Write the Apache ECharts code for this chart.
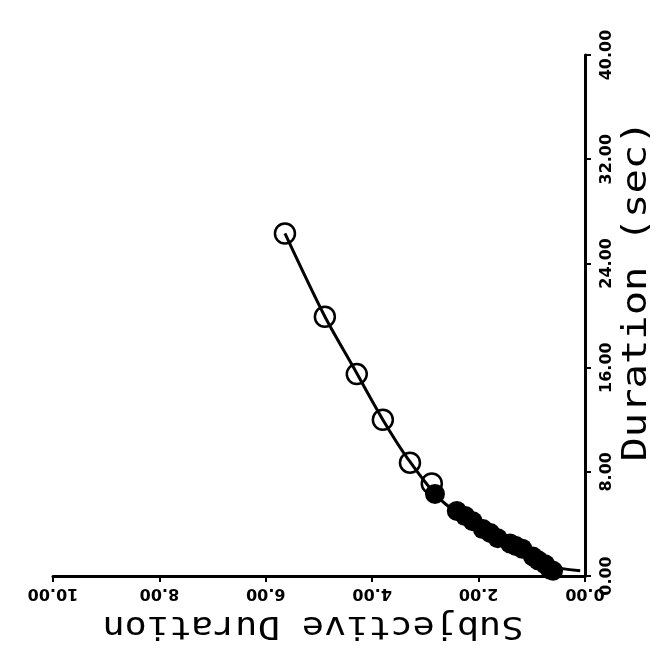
<!DOCTYPE html>
<html>
<head>
<meta charset="utf-8">
<script src="https://cdn.jsdelivr.net/npm/echarts@6/dist/echarts.min.js"></script>
<style>
html,body{margin:0;padding:0;background:#fff;}
#chart{width:665px;height:650px;}
</style>
</head>
<body>
<div id="chart"></div>
<script>
// Subjective duration (x, increasing to the left) vs duration in sec (y, on the right)
var openS = [5.64, 4.89, 4.29, 3.80, 3.29, 2.88];
var openD = [26.3, 19.9, 15.5, 12.0, 8.7, 7.1];

var filledS = [0.60, 0.66, 0.75, 0.88, 0.98, 1.18, 1.30, 1.41, 1.64, 1.78, 1.92, 2.11, 2.25, 2.41, 2.82];
var filledD = [0.4, 0.5, 0.9, 1.2, 1.5, 2.1, 2.3, 2.5, 2.9, 3.3, 3.6, 4.2, 4.6, 5.0, 6.3];

var fitS = [0.09, 0.70, 1.00, 1.42, 2.10, 2.75, 3.33, 3.80, 4.35, 4.90, 5.64];
var fitD = [0.4, 0.8, 1.5, 2.5, 4.0, 6.0, 9.0, 12.0, 16.0, 20.0, 26.3];

var subjTicks = ['0.00', '2.00', '4.00', '6.00', '8.00', '10.00'];
var durTicks = ['0.00', '8.00', '16.00', '24.00', '32.00', '40.00'];

function zip(a, b) { return a.map(function (v, i) { return [v, b[i]]; }); }

var chart = echarts.init(document.getElementById('chart'), null, {renderer: 'canvas'});
var labelFont = {color: '#000', fontWeight: 'bold', fontSize: 16, fontFamily: 'DejaVu Sans'};

chart.setOption({
  backgroundColor: '#fff',
  animation: false,
  grid: {left: 53, right: 80, top: 55, bottom: 74, containLabel: false, outerBoundsMode: 'none'},
  xAxis: {
    type: 'value', inverse: true, position: 'bottom',
    min: 0, max: 10, interval: 2,
    axisLine: {show: true, onZero: false, lineStyle: {color: '#000', width: 3}},
    axisTick: {show: true, inside: false, length: 6, lineStyle: {color: '#000', width: 2}},
    splitLine: {show: false},
    axisLabel: Object.assign({
      rotate: 180, margin: 9,
      formatter: function (v) { return subjTicks[Math.round(v / 2)]; }
    }, labelFont)
  },
  yAxis: {
    type: 'value', position: 'right',
    min: 0, max: 40, interval: 8,
    axisLine: {show: true, onZero: false, lineStyle: {color: '#000', width: 3}},
    axisTick: {show: true, inside: false, length: 6, lineStyle: {color: '#000', width: 2}},
    splitLine: {show: false},
    axisLabel: Object.assign({
      rotate: 90, margin: 14,
      formatter: function (v) { return durTicks[Math.round(v / 8)]; }
    }, labelFont)
  },
  graphic: [
    {type: 'text', x: 637, y: 291, rotation: Math.PI / 2, scaleX: 1.19,
     style: {text: 'Duration (sec)', font: '34px "DejaVu Sans Mono"', fill: '#000',
             textAlign: 'center', textVerticalAlign: 'middle', verticalAlign: 'middle'}},
    {type: 'text', x: 313, y: 625, rotation: Math.PI, scaleX: 1.15,
     style: {text: 'Subjective Duration', font: '32px "DejaVu Sans Mono"', fill: '#000',
             textAlign: 'center', textVerticalAlign: 'middle', verticalAlign: 'middle'}}
  ],
  series: [
    {type: 'line', data: zip(fitS, fitD), smooth: 0.3, symbol: 'none',
     lineStyle: {color: '#000', width: 3}, z: 2},
    {type: 'scatter', data: zip(filledS, filledD), symbol: 'circle', symbolSize: 20,
     itemStyle: {color: '#000', opacity: 1}, z: 3},
    {type: 'scatter', data: zip(openS, openD), symbol: 'circle', symbolSize: 20,
     itemStyle: {color: 'rgba(0,0,0,0)', borderColor: '#000', borderWidth: 2.5, opacity: 1}, z: 4}
  ]
});
</script>
</body>
</html>
